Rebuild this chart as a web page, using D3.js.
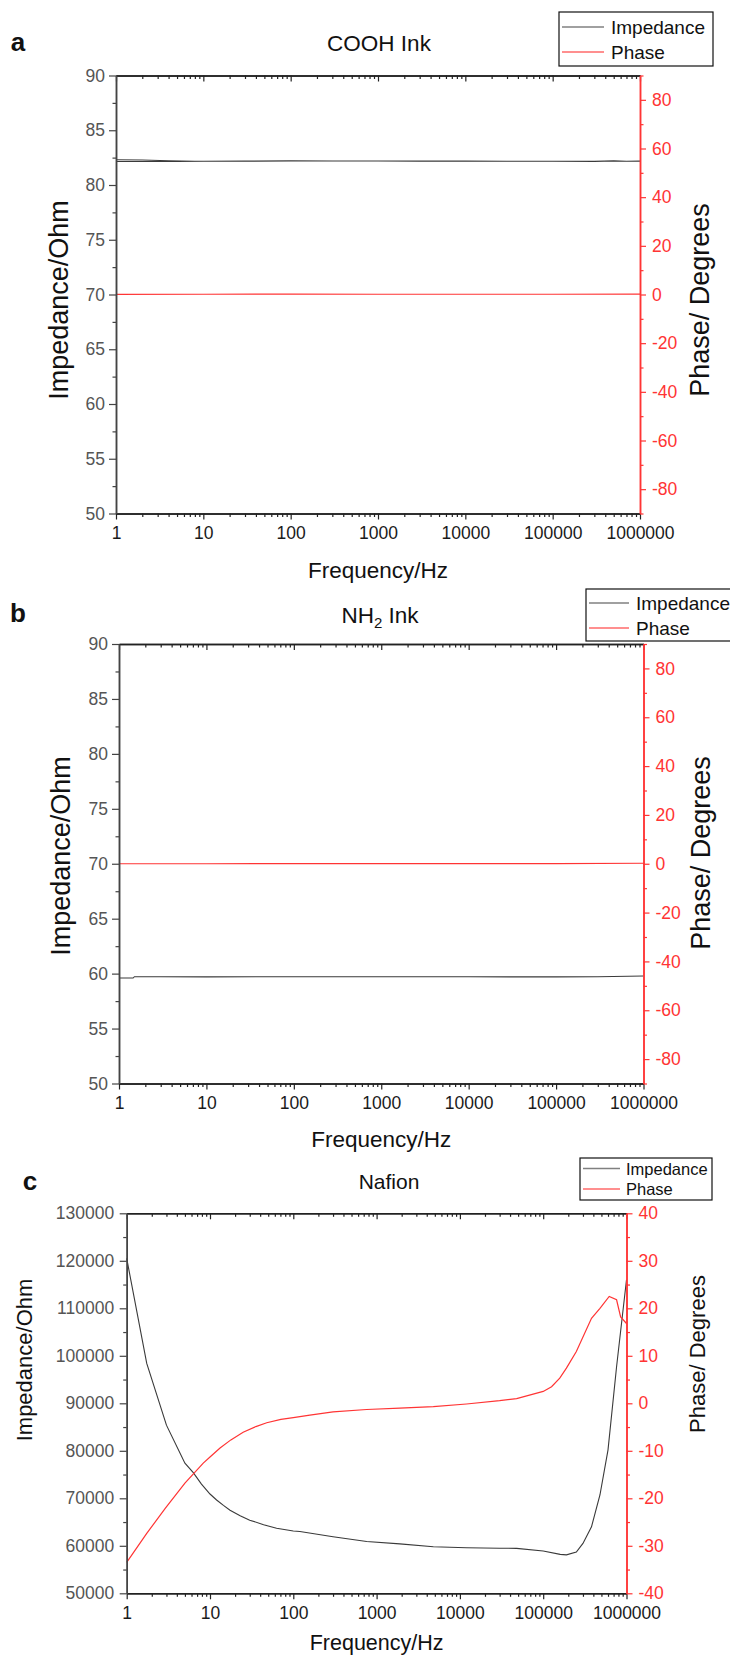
<!DOCTYPE html>
<html>
<head>
<meta charset="utf-8">
<script src="https://cdn.jsdelivr.net/npm/d3@7/dist/d3.min.js"></script>
<style>
  html, body { margin: 0; padding: 0; background: #fff; }
  svg { display: block; font-family: "Liberation Sans", Arial, sans-serif; }
</style>
</head>
<body>
<svg id="fig" width="730" height="1657"></svg>
<script>
// ---- shared axis values ----
const decadeTicks = [1, 10, 100, 1000, 10000, 100000, 1000000];
const decadeLabels = ["1", "10", "100", "1000", "10000", "100000", "1000000"];
const impTicksInk = [50, 55, 60, 65, 70, 75, 80, 85, 90];
const phaseTicksInk = [-80, -60, -40, -20, 0, 20, 40, 60, 80];
const impTicksNafion = [50000, 60000, 70000, 80000, 90000, 100000, 110000, 120000, 130000];
const phaseTicksNafion = [-40, -30, -20, -10, 0, 10, 20, 30, 40];

// ---- (a) COOH ink ----
const freqImpA = [1, 2, 4, 8, 1, 2, 5, 10, 30, 100, 300, 1000, 3000, 10000, 30000, 100000, 300000, 500000, 700000, 1000000];
const impA = [82.3, 82.28, 82.22, 82.17, 82.15, 82.15, 82.16, 82.17, 82.18, 82.2, 82.19, 82.19, 82.18, 82.18, 82.17, 82.17, 82.16, 82.2, 82.17, 82.18];
const freqPhaseA = [1, 10, 100, 1000, 10000, 100000, 1000000];
const phaseA = [0.05, 0.1, 0.15, 0.1, 0.1, 0.1, 0.15];

// ---- (b) NH2 ink ----
const freqImpB = [1, 1.45, 1.5, 3, 10, 100, 1000, 10000, 100000, 300000, 1000000];
const impB = [59.6, 59.6, 59.72, 59.72, 59.7, 59.72, 59.72, 59.71, 59.7, 59.72, 59.78];
const freqPhaseB = [1, 10, 100, 1000, 10000, 100000, 1000000];
const phaseB = [0, 0, 0.05, 0.05, 0.05, 0.05, 0.2];

// ---- (c) Nafion ----
const freqImpC = [1, 1.74, 3.0, 5.0, 6.3, 7.9, 10, 12, 14.5, 17.4, 23, 30, 44, 63, 100, 120, 300, 760, 1900, 4800, 12000, 30000, 48000, 100000, 160000, 190000, 250000, 300000, 380000, 480000, 600000, 760000, 1000000];
const impC = [120500, 98400, 85400, 77400, 75400, 73000, 70900, 69650, 68500, 67500, 66350, 65400, 64450, 63700, 63100, 63000, 61900, 60900, 60400, 59800, 59600, 59500, 59450, 58900, 58200, 58100, 58700, 60500, 64000, 70700, 80200, 97700, 116000];
const freqPhaseC = [1, 1.74, 2.9, 5.0, 8.3, 10, 13.2, 17.8, 25, 35.5, 48, 71, 100, 158, 300, 760, 1900, 4800, 12000, 30000, 48000, 100000, 126000, 158000, 190000, 250000, 380000, 480000, 620000, 760000, 850000, 1000000];
const phaseC = [-33.5, -27.4, -22.1, -16.8, -12.6, -11.3, -9.4, -7.7, -6.1, -4.9, -4.1, -3.4, -3.0, -2.5, -1.8, -1.3, -1.0, -0.7, -0.15, 0.55, 1.0, 2.5, 3.5, 5.3, 7.4, 10.9, 17.9, 20.0, 22.5, 21.8, 18.2, 16.8];

const RED = "#ff3434";
const svg = d3.select("#fig");
const plain = d => String(d);   // keeps ASCII hyphen for negatives

function minorLog() {
  const out = [];
  for (let e = 0; e < 6; e++) for (let m = 2; m <= 9; m++) out.push(m * Math.pow(10, e));
  return out;
}
function midpoints(arr) {
  const out = [];
  for (let i = 0; i < arr.length - 1; i++) out.push((arr[i] + arr[i + 1]) / 2);
  return out;
}

function drawPanel(p) {
  const g = svg.append("g");
  const x = d3.scaleLog().domain([1, 1e6]).range([p.left, p.right]);
  const yL = d3.scaleLinear().domain(p.impDomain).range([p.bottom, p.top]);
  const yR = d3.scaleLinear().domain(p.phaseDomain).range([p.bottom, p.top]);

  const styleAxis = (sel, color, textColor, fs) => {
    sel.select(".domain").attr("stroke", color).attr("stroke-width", 1.5);
    sel.selectAll(".tick line").attr("stroke", color).attr("stroke-width", 1.2);
    sel.selectAll(".tick text").attr("fill", textColor).attr("font-size", fs)
      .attr("font-family", "Liberation Sans, Arial, sans-serif");
  };

  // data lines first, axes on top
  const line = (xs, ys, yScale) => d3.line()(xs.map((f, i) => [x(f), yScale(ys[i])]));
  g.append("path").attr("d", line(p.freqImp, p.imp, yL))
    .attr("fill", "none").attr("stroke", "#3a3a3a").attr("stroke-width", 1.1);
  g.append("path").attr("d", line(p.freqPhase, p.phase, yR))
    .attr("fill", "none").attr("stroke", RED).attr("stroke-width", 1.2);

  // bottom axis: majors with labels, minors unlabeled
  g.append("g").attr("transform", `translate(0,${p.bottom})`)
    .call(d3.axisBottom(x).tickValues(minorLog()).tickSize(3.5).tickSizeOuter(0).tickFormat(""))
    .call(s => styleAxis(s, "#222", "#222", 16));
  g.append("g").attr("transform", `translate(0,${p.bottom})`)
    .call(d3.axisBottom(x).tickValues(decadeTicks).tickSize(6).tickSizeOuter(0).tickPadding(7)
      .tickFormat((d, i) => decadeLabels[i]))
    .call(s => styleAxis(s, "#222", "#1a1a1a", p.tickFont));

  // top axis mirror with inward ticks
  g.append("g").attr("transform", `translate(0,${p.top})`)
    .call(d3.axisTop(x).tickValues(minorLog()).tickSize(-3.5).tickSizeOuter(0).tickFormat(""))
    .call(s => styleAxis(s, "#222", "#222", 16));
  g.append("g").attr("transform", `translate(0,${p.top})`)
    .call(d3.axisTop(x).tickValues(decadeTicks).tickSize(-6).tickSizeOuter(0).tickFormat(""))
    .call(s => styleAxis(s, "#222", "#222", 16));

  // left impedance axis
  g.append("g").attr("transform", `translate(${p.left},0)`)
    .call(d3.axisLeft(yL).tickValues(midpoints(p.impTicks)).tickSize(3.5).tickSizeOuter(0).tickFormat(""))
    .call(s => styleAxis(s, "#444", "#555", 16));
  g.append("g").attr("transform", `translate(${p.left},0)`)
    .call(d3.axisLeft(yL).tickValues(p.impTicks).tickSize(7).tickSizeOuter(0).tickPadding(p.leftPad)
      .tickFormat(plain))
    .call(s => styleAxis(s, "#444", "#555", p.tickFont));

  // right phase axis (red)
  g.append("g").attr("transform", `translate(${p.right},0)`)
    .call(d3.axisRight(yR).tickValues(p.phaseMinor).tickSize(3.5).tickSizeOuter(0).tickFormat(""))
    .call(s => styleAxis(s, RED, RED, 16));
  g.append("g").attr("transform", `translate(${p.right},0)`)
    .call(d3.axisRight(yR).tickValues(p.phaseTicks).tickSize(6).tickSizeOuter(0).tickPadding(6)
      .tickFormat(plain))
    .call(s => styleAxis(s, RED, RED, p.tickFont));

  // titles
  const t = g.append("text").attr("x", p.titleX).attr("y", p.titleY)
    .attr("text-anchor", "middle").attr("font-size", p.titleFont).attr("fill", "#111");
  p.title(t);
  g.append("text").attr("x", p.tagX).attr("y", p.tagY).attr("font-size", 26)
    .attr("font-weight", "bold").attr("fill", "#111").attr("text-anchor", "middle").text(p.tag);
  g.append("text").attr("x", (p.left + p.right) / 2).attr("y", p.xTitleY)
    .attr("text-anchor", "middle").attr("font-size", p.xTitleFont).attr("fill", "#111").text("Frequency/Hz");
  g.append("text").attr("transform", `translate(${p.yTitleLX},${p.yTitleLY}) rotate(-90)`)
    .attr("text-anchor", "middle").attr("dominant-baseline", "central")
    .attr("font-size", p.yTitleFont).attr("fill", "#111").text("Impedance/Ohm");
  g.append("text").attr("transform", `translate(${p.yTitleRX},${p.yTitleRY}) rotate(-90)`)
    .attr("text-anchor", "middle").attr("dominant-baseline", "central")
    .attr("font-size", p.yTitleFont).attr("fill", "#111").text("Phase/ Degrees");

  // legend
  const L = p.legend;
  g.append("rect").attr("x", L.x).attr("y", L.y).attr("width", L.w).attr("height", L.h)
    .attr("fill", "#fff").attr("stroke", "#111").attr("stroke-width", 1.2);
  [["Impedance", "#808080", L.row1], ["Phase", "#ff6a6a", L.row2]].forEach(([name, col, ry]) => {
    g.append("line").attr("x1", L.lx1).attr("x2", L.lx2).attr("y1", ry).attr("y2", ry)
      .attr("stroke", col).attr("stroke-width", 1.3);
    g.append("text").attr("x", L.tx).attr("y", ry).attr("dominant-baseline", "central")
      .attr("font-size", L.font).attr("fill", "#111").text(name);
  });
}

drawPanel({
  left: 116, right: 640, top: 75.5, bottom: 513.5,
  impDomain: [50, 90], phaseDomain: [-90, 90],
  impTicks: impTicksInk, phaseTicks: phaseTicksInk,
  phaseMinor: [-90, -70, -50, -30, -10, 10, 30, 50, 70, 90],
  freqImp: freqImpA, imp: impA, freqPhase: freqPhaseA, phase: phaseA,
  tickFont: 17.5, leftPad: 4, titleFont: 22.5, xTitleFont: 22.5, yTitleFont: 27,
  title: t => t.text("COOH Ink"), titleX: 379, titleY: 51,
  tag: "a", tagX: 18, tagY: 51,
  xTitleY: 578, yTitleLX: 59, yTitleLY: 300, yTitleRX: 700, yTitleRY: 300,
  legend: { x: 559, y: 12, w: 154, h: 54, row1: 27, row2: 52, lx1: 562, lx2: 604, tx: 611, font: 19 }
});

drawPanel({
  left: 119, right: 643.5, top: 644, bottom: 1083.5,
  impDomain: [50, 90], phaseDomain: [-90, 90],
  impTicks: impTicksInk, phaseTicks: phaseTicksInk,
  phaseMinor: [-90, -70, -50, -30, -10, 10, 30, 50, 70, 90],
  freqImp: freqImpB, imp: impB, freqPhase: freqPhaseB, phase: phaseB,
  tickFont: 17.5, leftPad: 4, titleFont: 22.5, xTitleFont: 22.5, yTitleFont: 27,
  title: t => { t.append("tspan").text("NH"); t.append("tspan").attr("font-size", 15).attr("dy", 5).text("2");
                t.append("tspan").attr("dy", -5).text(" Ink"); },
  titleX: 380, titleY: 623,
  tag: "b", tagX: 18, tagY: 622,
  xTitleY: 1147, yTitleLX: 61, yTitleLY: 856, yTitleRX: 701, yTitleRY: 853,
  legend: { x: 586, y: 589, w: 154, h: 52, row1: 603, row2: 628, lx1: 589, lx2: 629, tx: 636, font: 19 }
});

drawPanel({
  left: 126.7, right: 626.5, top: 1213.3, bottom: 1593.3,
  impDomain: [50000, 130000], phaseDomain: [-40, 40],
  impTicks: impTicksNafion, phaseTicks: phaseTicksNafion,
  phaseMinor: [-35, -25, -15, -5, 5, 15, 25, 35],
  freqImp: freqImpC, imp: impC, freqPhase: freqPhaseC, phase: phaseC,
  tickFont: 17.5, leftPad: 5.5, titleFont: 21, xTitleFont: 21.5, yTitleFont: 22,
  title: t => t.text("Nafion"), titleX: 389, titleY: 1189,
  tag: "c", tagX: 30, tagY: 1190,
  xTitleY: 1650, yTitleLX: 24, yTitleLY: 1360, yTitleRX: 697, yTitleRY: 1354,
  legend: { x: 580, y: 1158, w: 132, h: 42, row1: 1168.5, row2: 1189, lx1: 583, lx2: 620, tx: 626, font: 16.5 }
});
</script>
</body>
</html>
